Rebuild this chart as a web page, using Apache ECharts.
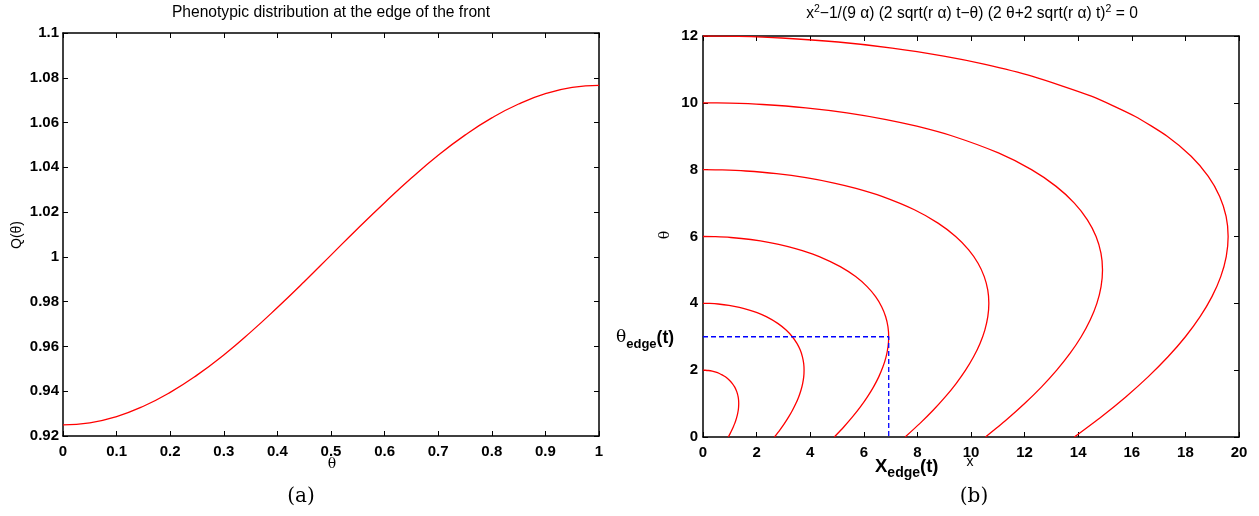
<!DOCTYPE html>
<html>
<head>
<meta charset="utf-8">
<script src="https://cdn.jsdelivr.net/npm/echarts@6/dist/echarts.min.js"></script>
<style>
  html, body { margin: 0; padding: 0; background: #fff; }
  #main { width: 1259px; height: 516px; }
</style>
</head>
<body>
<div id="main"></div>
<script>
// (a) phenotypic distribution Q(theta)
const thetaA = [0, 0.05, 0.1, 0.15, 0.2, 0.25, 0.3, 0.35, 0.4, 0.45, 0.5,
                0.55, 0.6, 0.65, 0.7, 0.75, 0.8, 0.85, 0.9, 0.95, 1];
const qValues = [0.9250, 0.9259, 0.9287, 0.9333, 0.9395, 0.9472, 0.9562, 0.9664, 0.9774, 0.9889, 1.0008,
                 1.0127, 1.0242, 1.0352, 1.0454, 1.0544, 1.0621, 1.0683, 1.0729, 1.0757, 1.0766];

// (b) level curves, points as [x, theta]
const curve2 = [[0.943,0],[1.011,0.1],[1.073,0.2],[1.130,0.3],[1.181,0.4],[1.225,0.5],[1.262,0.6],[1.292,0.7],
  [1.315,0.8],[1.328,0.9],[1.333,1.0],[1.328,1.1],[1.312,1.2],[1.283,1.3],[1.239,1.4],[1.179,1.5],[1.096,1.6],
  [0.986,1.7],[0.835,1.8],[0.713,1.86],[0.611,1.9],[0.480,1.94],[0.343,1.97],[0.199,1.99],[0.089,1.998],[0,2]];
const curve4 = [[2.667,0],[2.859,0.2],[3.036,0.4],[3.196,0.6],[3.339,0.8],[3.464,1.0],[3.570,1.2],[3.655,1.4],
  [3.718,1.6],[3.758,1.8],[3.771,2.0],[3.757,2.2],[3.710,2.4],[3.629,2.6],[3.505,2.8],[3.333,3.0],[3.101,3.2],
  [2.789,3.4],[2.361,3.6],[2.018,3.72],[1.729,3.8],[1.358,3.88],[0.970,3.94],[0.564,3.98],[0.253,3.996],[0,4]];
const curve6 = [[4.899,0],[5.252,0.3],[5.577,0.6],[5.872,0.9],[6.134,1.2],[6.364,1.5],[6.558,1.8],[6.714,2.1],
  [6.831,2.4],[6.903,2.7],[6.928,3.0],[6.901,3.3],[6.816,3.6],[6.666,3.9],[6.440,4.2],[6.124,4.5],[5.696,4.8],
  [5.123,5.1],[4.338,5.4],[3.707,5.58],[3.177,5.7],[2.495,5.82],[1.782,5.91],[1.036,5.97],[0.464,5.994],[0,6]];
const curve8 = [[7.542,0],[8.086,0.4],[8.586,0.8],[9.039,1.2],[9.444,1.6],[9.797,2.0],[10.096,2.4],[10.337,2.8],
  [10.516,3.2],[10.627,3.6],[10.666,4.0],[10.625,4.4],[10.494,4.8],[10.263,5.2],[9.914,5.6],[9.428,6.0],[8.770,6.4],
  [7.887,6.8],[6.678,7.2],[5.707,7.44],[4.891,7.6],[3.841,7.76],[2.743,7.88],[1.595,7.96],[0.715,7.992],[0,8]];
const curve10 = [[10.541,0],[11.302,0.5],[12.000,1.0],[12.634,1.5],[13.199,2.0],[13.693,2.5],[14.111,3.0],[14.447,3.5],
  [14.697,4.0],[14.853,4.5],[14.907,5.0],[14.849,5.5],[14.667,6.0],[14.343,6.5],[13.856,7.0],[13.176,7.5],[12.257,8.0],
  [11.023,8.5],[9.333,9.0],[7.976,9.3],[6.836,9.5],[5.368,9.7],[3.834,9.85],[2.229,9.95],[0.999,9.99],[0,10]];
const curve12 = [[13.856,0],[14.856,0.6],[15.774,1.2],[16.607,1.8],[17.351,2.4],[18.000,3.0],[18.549,3.6],[18.991,4.2],
  [19.319,4.8],[19.524,5.4],[19.595,6.0],[19.519,6.6],[19.279,7.2],[18.854,7.8],[18.214,8.4],[17.320,9.0],[16.111,9.6],
  [14.490,10.2],[12.269,10.8],[10.485,11.16],[8.985,11.4],[7.056,11.64],[5.040,11.82],[2.930,11.94],[1.314,11.988],[0,12]];
const edgeLine = [[0,3],[6.93,3],[6.93,0]];

const FONT = '"Liberation Sans", Arial, Helvetica, sans-serif';

function axisBase(extra) {
  return Object.assign({
    type: 'value',
    splitLine: { show: false },
    axisLine: { show: true, onZero: false, lineStyle: { color: '#000', width: 1.5 } },
    axisTick: { show: true, inside: true, length: 5, lineStyle: { color: '#000', width: 1 } },
    axisLabel: { show: true, color: '#000', fontSize: 15, fontWeight: 'bold', fontFamily: FONT, margin: 8 }
  }, extra);
}
function mirror(extra) {
  const a = axisBase(extra);
  a.axisLabel = { show: false };
  return a;
}

const myChart = echarts.init(document.getElementById('main'));

const option = {
  animation: false,
  backgroundColor: '#fff',
  grid: [
    { left: 63, top: 33, width: 536, height: 403 },
    { left: 703, top: 36, width: 536, height: 401 }
  ],
  xAxis: [
    axisBase({ gridIndex: 0, min: 0, max: 1, interval: 0.1, position: 'bottom' }),
    mirror({ gridIndex: 0, min: 0, max: 1, interval: 0.1, position: 'top' }),
    axisBase({ gridIndex: 1, min: 0, max: 20, interval: 2, position: 'bottom' }),
    mirror({ gridIndex: 1, min: 0, max: 20, interval: 2, position: 'top' })
  ],
  yAxis: [
    axisBase({ gridIndex: 0, min: 0.92, max: 1.1, interval: 0.02, position: 'left',
      axisLabel: { color: '#000', fontSize: 15, fontWeight: 'bold', fontFamily: FONT, margin: 4 } }),
    mirror({ gridIndex: 0, min: 0.92, max: 1.1, interval: 0.02, position: 'right' }),
    axisBase({ gridIndex: 1, min: 0, max: 12, interval: 2, position: 'left',
      axisLabel: { color: '#000', fontSize: 15, fontWeight: 'bold', fontFamily: FONT, margin: 5 } }),
    mirror({ gridIndex: 1, min: 0, max: 12, interval: 2, position: 'right' })
  ],
  series: [
    {
      type: 'line', xAxisIndex: 0, yAxisIndex: 0, showSymbol: false, symbol: 'none', smooth: true,
      lineStyle: { color: '#ff0000', width: 1.3 },
      data: thetaA.map((t, i) => [t, qValues[i]])
    },
    ...[curve2, curve4, curve6, curve8, curve10, curve12].map(c => ({
      type: 'line', xAxisIndex: 2, yAxisIndex: 2, showSymbol: false, symbol: 'none', smooth: 0.2,
      lineStyle: { color: '#ff0000', width: 1.3 },
      data: c
    })),
    {
      type: 'line', xAxisIndex: 2, yAxisIndex: 2, showSymbol: false, symbol: 'none',
      lineStyle: { color: '#0000ff', width: 1.3, type: [5, 3] },
      data: edgeLine
    }
  ],
  graphic: [
    { type: 'text', x: 331, y: 13, style: { text: 'Phenotypic distribution at the edge of the front',
      font: '15.6px ' + FONT, fill: '#000', textAlign: 'center', textVerticalAlign: 'middle' } },
    { type: 'text', x: 972, y: 14, style: {
      text: '{a|x}{s|2}{a|\u22121/(9 \u03b1) (2 sqrt(r \u03b1) t\u2212\u03b8) (2 \u03b8+2 sqrt(r \u03b1) t)}{s|2}{a| = 0}',
      textAlign: 'center', textVerticalAlign: 'middle',
      rich: {
        a: { fontSize: 15.6, fontFamily: FONT, color: '#000' },
        s: { fontSize: 10.5, fontFamily: FONT, color: '#000', padding: [0, 0, 10, 0] }
      } } },
    { type: 'text', x: 17, y: 235, rotation: Math.PI / 2, style: { text: 'Q(\u03b8)',
      font: '14px ' + FONT, fill: '#000', textAlign: 'center', textVerticalAlign: 'middle' } },
    { type: 'text', x: 332, y: 464, style: { text: '\u03b8',
      font: '14px "DejaVu Serif", serif', fill: '#000', textAlign: 'center', textVerticalAlign: 'middle' } },
    { type: 'text', x: 665, y: 235, rotation: Math.PI / 2, style: { text: '\u03b8',
      font: '14px "DejaVu Serif", serif', fill: '#000', textAlign: 'center', textVerticalAlign: 'middle' } },
    { type: 'text', x: 970, y: 462, style: { text: 'x',
      font: '14px ' + FONT, fill: '#000', textAlign: 'center', textVerticalAlign: 'middle' } },
    { type: 'text', x: 616, y: 338, style: {
      text: '{t|\u03b8}{s|edge}{b|(t)}', textVerticalAlign: 'middle',
      rich: {
        t: { fontSize: 17, fontFamily: '"DejaVu Serif", serif', color: '#000' },
        s: { fontSize: 13, fontWeight: 'bold', fontFamily: FONT, color: '#000', padding: [12, 0, 0, 0] },
        b: { fontSize: 17.5, fontWeight: 'bold', fontFamily: FONT, color: '#000' }
      } } },
    { type: 'text', x: 875, y: 467, style: {
      text: '{b|X}{s|edge}{b|(t)}', textVerticalAlign: 'middle',
      rich: {
        s: { fontSize: 14, fontWeight: 'bold', fontFamily: FONT, color: '#000', padding: [13, 0, 0, 0] },
        b: { fontSize: 18.5, fontWeight: 'bold', fontFamily: FONT, color: '#000' }
      } } },
    { type: 'text', x: 301, y: 497, style: { text: '(a)',
      font: '20px "DejaVu Serif", "Liberation Serif", serif', fill: '#000', textAlign: 'center', textVerticalAlign: 'middle' } },
    { type: 'text', x: 974, y: 497, style: { text: '(b)',
      font: '20px "DejaVu Serif", "Liberation Serif", serif', fill: '#000', textAlign: 'center', textVerticalAlign: 'middle' } }
  ]
};

myChart.setOption(option);
</script>
</body>
</html>
